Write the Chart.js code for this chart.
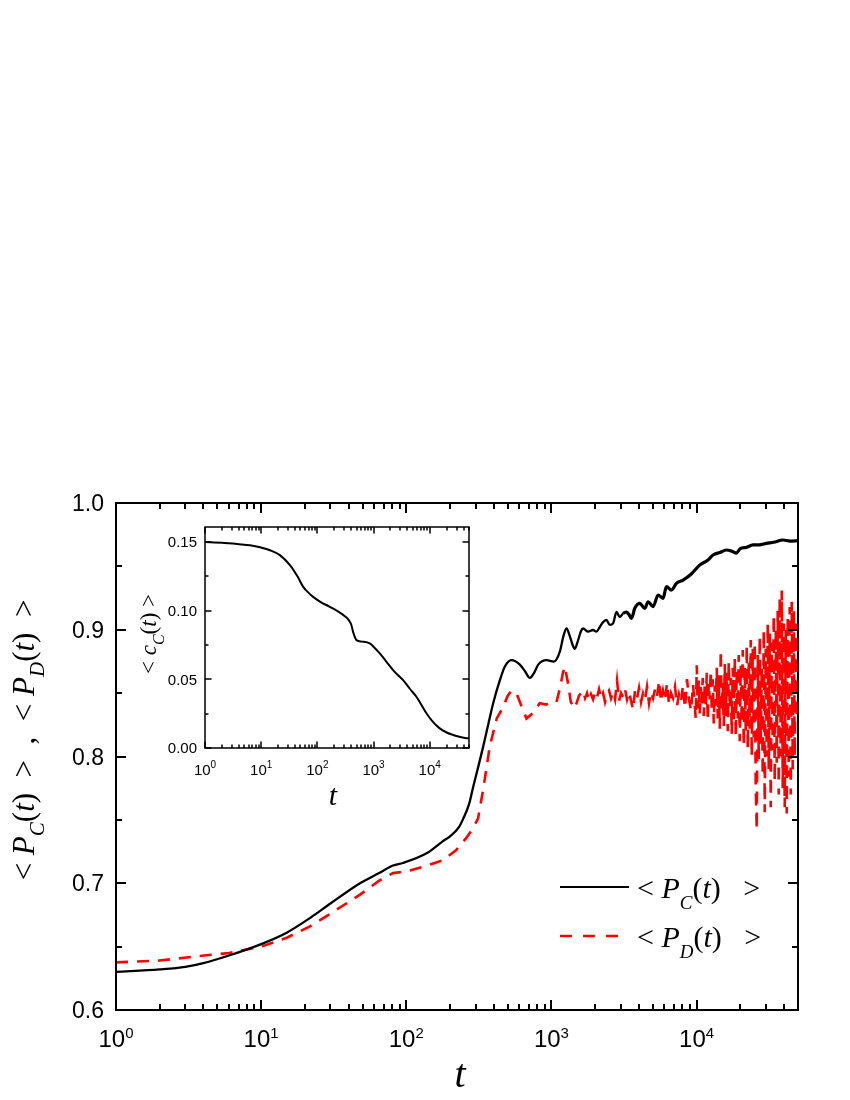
<!DOCTYPE html>
<html><head><meta charset="utf-8">
<script src="https://cdn.jsdelivr.net/npm/chart.js@4.4.1/dist/chart.umd.min.js"></script>
<style>
html,body{margin:0;padding:0;background:#fff;}
#wrap{position:relative;width:850px;height:1100px;}
canvas{position:absolute;left:0;top:0;}
</style></head><body>
<div id="wrap"><canvas id="main" width="850" height="1100"></canvas><canvas id="inset" width="850" height="1100"></canvas></div>
<script>
// ---------- data ----------
const tC = [1, 2, 3, 4, 6, 10, 15, 22, 30, 48, 65, 81, 95, 138, 178, 200, 230, 247, 270, 289, 315, 339, 370, 397, 441, 478, 531, 606, 660, 710, 760, 811, 925, 1038, 1143, 1210, 1270, 1330, 1400, 1449, 1520, 1600, 1652, 1790, 1937, 2042, 2150, 2270, 2394, 2524, 2661, 2806, 2958, 3119, 3289, 3420, 3561, 3752, 4062, 4398, 4637, 5016, 5431, 5880, 6199, 6711, 7266, 8078, 9200, 10510, 12000, 12990, 14500, 16060, 17500, 18830, 20000, 22000, 24500, 27000, 30300, 34000, 39450, 44000, 50000];
const pC = [0.630, 0.632, 0.634, 0.637, 0.643, 0.652, 0.661, 0.673, 0.684, 0.700, 0.708, 0.714, 0.716, 0.7236, 0.733, 0.737, 0.744, 0.751, 0.762, 0.776, 0.793, 0.808, 0.827, 0.842, 0.860, 0.871, 0.876, 0.8725, 0.867, 0.862, 0.866, 0.8725, 0.876, 0.8748, 0.8827, 0.895, 0.901, 0.896, 0.888, 0.885, 0.891, 0.899, 0.901, 0.8985, 0.8998, 0.8985, 0.902, 0.906, 0.9077, 0.9038, 0.905, 0.914, 0.910, 0.9129, 0.914, 0.912, 0.909, 0.9169, 0.9208, 0.9169, 0.9221, 0.9182, 0.9274, 0.9248, 0.934, 0.9313, 0.9366, 0.9392, 0.944, 0.951, 0.955, 0.959, 0.961, 0.9629, 0.962, 0.9605, 0.964, 0.965, 0.9669, 0.967, 0.9682, 0.969, 0.9708, 0.970, 0.9703];

const tD_smooth = [1, 2, 3.4, 6, 10, 15, 21.7, 30, 48, 65, 81, 106, 130, 178, 220, 260, 290, 312, 340, 376, 420, 465, 500, 531, 574, 620, 673, 740, 831, 920, 1000, 1084, 1150, 1200, 1237, 1300, 1360, 1449, 1550];
const pD_smooth = [0.6376, 0.639, 0.642, 0.645, 0.650, 0.657, 0.666, 0.676, 0.691, 0.702, 0.708, 0.710, 0.713, 0.718, 0.726, 0.736, 0.744, 0.751, 0.775, 0.808, 0.830, 0.839, 0.848, 0.852, 0.850, 0.840, 0.830, 0.834, 0.842, 0.841, 0.843, 0.843, 0.855, 0.866, 0.871, 0.858, 0.843, 0.838, 0.848];
const tD_noisy = [1652,1705,1760,1817,1875,1936,1998,2062,2129,2197,
  2268,2341,2417,2495,2575,2658,2744,2832,2923,3017,
  3115,3215,3318,3425,3536,3650,3767,3889,4014,4143,
  4277,4415,4557,4704,4855,5012,5173,5340,5512,5690,
  5873,6062,6258,6459,6668,6882,7104,7333,7569,7813,
  8065,8325,8593,8870,9156,9451];
const pD_noisy = [0.852, 0.846, 0.850, 0.844, 0.849, 0.845, 0.851, 0.847, 0.853, 0.846,
  0.850, 0.843, 0.849, 0.852, 0.846, 0.851, 0.845, 0.860, 0.844, 0.850,
  0.847, 0.853, 0.845, 0.851, 0.844, 0.837, 0.852, 0.846, 0.854, 0.843,
  0.850, 0.845, 0.855, 0.842, 0.851, 0.846, 0.853, 0.847, 0.860, 0.843,
  0.852, 0.844, 0.858, 0.841, 0.850, 0.846, 0.855, 0.840, 0.849, 0.843,
  0.856, 0.838, 0.861, 0.845, 0.836, 0.857];
const tD_dense = [9874, 10032, 10192, 10355, 10521, 10689, 10860, 11034, 11210, 11389,
  11571, 11756, 11944, 12135, 12329, 12526, 12726, 12930, 13136, 13346,
  13560, 13776, 13997, 14220, 14448, 14679, 14913, 15152, 15394, 15640,
  15890, 16144, 16402, 16664, 16931, 17201, 17476, 17756, 18039, 18328,
  18621, 18918, 19221, 19528, 19840, 20157, 20479, 20807, 21139, 21477,
  21821, 22169, 22524, 22884, 23250, 23621, 23999, 24383, 24772, 25168,
  25571, 25980, 26395, 26817, 27245, 27681, 28124, 28573, 29030, 29494,
  29965, 30444, 30931, 31425, 31928, 32438, 32956, 33483, 34018, 34562,
  35115, 35676, 36246, 36826, 37414, 38012, 38620, 39237, 39864, 40502,
  41149, 41807, 42475, 43154, 43844, 44545, 45257, 45980, 46715, 47462,
  48221, 48992];
const pD_dense = [0.830, 0.872, 0.838, 0.860, 0.834, 0.855, 0.842, 0.862, 0.832, 0.857,
  0.838, 0.866, 0.828, 0.858, 0.845, 0.868, 0.835, 0.861, 0.826, 0.856,
  0.840, 0.870, 0.830, 0.864, 0.822, 0.884, 0.836, 0.858, 0.824, 0.873,
  0.832, 0.866, 0.820, 0.875, 0.838, 0.862, 0.818, 0.870, 0.826, 0.878,
  0.815, 0.868, 0.830, 0.880, 0.812, 0.872, 0.826, 0.884, 0.808, 0.870,
  0.820, 0.888, 0.806, 0.876, 0.822, 0.892, 0.800, 0.885, 0.815, 0.890,
  0.775, 0.742, 0.880, 0.798, 0.895, 0.810, 0.870, 0.785, 0.900, 0.756,
  0.885, 0.800, 0.905, 0.790, 0.897, 0.760, 0.890, 0.805, 0.912, 0.780,
  0.900, 0.795, 0.915, 0.770, 0.925, 0.800, 0.931, 0.775, 0.905, 0.760,
  0.900, 0.755, 0.910, 0.784, 0.918, 0.770, 0.922, 0.790, 0.915, 0.800,
  0.905, 0.830];
const tD = tD_smooth.concat(tD_noisy, tD_dense);
const pD = pD_smooth.concat(pD_noisy, pD_dense);

// inset: <c_C(t)>
const tI = [1, 2, 4, 6.3, 10, 14.3, 21.5, 32.5, 45, 56, 70, 84, 113, 167, 240, 320, 362, 400, 433, 497, 620, 857, 1000, 1291, 1700, 2228, 2700, 3357, 4500, 5796, 7000, 8730, 11000, 15066, 20000, 26000, 35000, 44900, 50000];
const cI = [0.150, 0.1495, 0.1485, 0.1477, 0.1460, 0.1441, 0.1405, 0.1332, 0.1245, 0.1174, 0.1130, 0.1101, 0.1065, 0.1028, 0.0992, 0.0955, 0.0932, 0.0900, 0.0845, 0.0786, 0.0775, 0.0762, 0.0738, 0.0689, 0.0628, 0.0568, 0.0532, 0.0495, 0.0428, 0.0373, 0.0318, 0.0253, 0.0198, 0.0143, 0.0113, 0.0095, 0.0080, 0.0071, 0.0070];

const mainYTicks = [0.6, 0.7, 0.8, 0.9, 1.0];
const mainYLabels = ['0.6', '0.7', '0.8', '0.9', '1.0'];
const insetYTicks = [0.00, 0.05, 0.10, 0.15];
const insetYLabels = ['0.00', '0.05', '0.10', '0.15'];
const decades = [1, 10, 100, 1000, 10000];
const decadeExp = ['0', '1', '2', '3', '4'];

// ---------- helpers ----------
const SANS = '"Liberation Sans", Arial, sans-serif';
const SERIF = '"Liberation Serif", "Times New Roman", serif';

function pts(xs, ys) { return xs.map((x, i) => ({x: x, y: ys[i]})); }

function logTickValues(min, max) {
  const out = [];
  for (let d = Math.floor(Math.log10(min)); d <= Math.ceil(Math.log10(max)); d++) {
    for (let m = 1; m <= 9; m++) {
      const v = m * Math.pow(10, d);
      if (v >= min * 0.999 && v <= max * 1.001) out.push({v: v, major: m === 1});
    }
  }
  return out;
}

function rich(ctx, segs, x, y, align) {
  let w = 0;
  segs.forEach(s => { ctx.font = s.f; s.w = ctx.measureText(s.t).width; w += s.w; });
  let cx = align === 'center' ? x - w / 2 : (align === 'right' ? x - w : x);
  ctx.textAlign = 'left';
  ctx.textBaseline = 'alphabetic';
  segs.forEach(s => { ctx.font = s.f; ctx.fillText(s.t, cx, y + (s.dy || 0)); cx += s.w; });
}

function framePlugin(cfg) {
  return {
    id: 'frame_' + cfg.name,
    afterDatasetsDraw(chart) {
      const ctx = chart.ctx, a = chart.chartArea;
      const xs = chart.scales.x, ys = chart.scales.y;
      ctx.save();
      ctx.strokeStyle = '#000';
      ctx.fillStyle = '#000';
      ctx.lineWidth = cfg.lw;
      ctx.strokeRect(a.left, a.top, a.right - a.left, a.bottom - a.top);
      ctx.beginPath();
      logTickValues(xs.min, xs.max).forEach(t => {
        const px = Math.round(xs.getPixelForValue(t.v));
        const L = t.major ? cfg.major : cfg.minor;
        ctx.moveTo(px, a.bottom); ctx.lineTo(px, a.bottom - L);
        ctx.moveTo(px, a.top); ctx.lineTo(px, a.top + L);
      });
      const n = Math.round((ys.max - ys.min) / cfg.yMinorStep);
      for (let i = 0; i <= n; i++) {
        const v = ys.min + i * cfg.yMinorStep;
        const py = Math.round(ys.getPixelForValue(v));
        const L = (i % cfg.yMajorEvery === 0) ? cfg.major : cfg.minor;
        ctx.moveTo(a.left, py); ctx.lineTo(a.left + L, py);
        ctx.moveTo(a.right, py); ctx.lineTo(a.right - L, py);
      }
      ctx.stroke();
      ctx.font = cfg.yFont;
      ctx.textAlign = 'right';
      ctx.textBaseline = 'alphabetic';
      cfg.yTicks.forEach((v, i) => {
        const py = ys.getPixelForValue(v);
        ctx.fillText(cfg.yLabels[i], cfg.yLabelX, py + cfg.yLabelDy);
      });
      decades.forEach((v, i) => {
        if (v < xs.min || v > xs.max) return;
        const px = xs.getPixelForValue(v);
        rich(ctx, [{t: '10', f: cfg.xFont}, {t: decadeExp[i], f: cfg.supFont, dy: -cfg.supDy}], px, cfg.xLabelY, 'center');
      });
      if (cfg.extra) cfg.extra(ctx, chart);
      ctx.restore();
    }
  };
}

function baseOptions(xmin, xmax, ymin, ymax, pad) {
  return {
    responsive: false, animation: false, devicePixelRatio: 1, events: [],
    layout: {padding: pad},
    plugins: {legend: {display: false}, tooltip: {enabled: false}},
    elements: {point: {radius: 0}},
    scales: {
      x: {type: 'logarithmic', min: xmin, max: xmax, display: false},
      y: {type: 'linear', min: ymin, max: ymax, display: false}
    }
  };
}

// ---------- main chart ----------
const it = 'italic 31px ' + SERIF, up = '31px ' + SERIF, sub = 'italic 21px ' + SERIF;
const mainExtra = (ctx, chart) => {
  ctx.font = 'italic 40px ' + SERIF;
  ctx.textAlign = 'center';
  ctx.fillText('t', 460, 1087);
  ctx.save();
  ctx.translate(34, 740);
  ctx.rotate(-Math.PI / 2);
  rich(ctx, [
    {t: '< ', f: up}, {t: 'P', f: it}, {t: 'C', f: sub, dy: 10}, {t: '(', f: up}, {t: 't', f: it}, {t: ')', f: up},
    {t: '  >  ,  ', f: up},
    {t: '< ', f: up}, {t: 'P', f: it}, {t: 'D', f: sub, dy: 10}, {t: '(', f: up}, {t: 't', f: it}, {t: ')', f: up},
    {t: '  >', f: up}
  ], 0, 0, 'center');
  ctx.restore();
  const lu = '30px ' + SERIF, li = 'italic 30px ' + SERIF, lsub = 'italic 19px ' + SERIF;
  ctx.lineWidth = 2.2;
  ctx.strokeStyle = '#000';
  ctx.beginPath(); ctx.moveTo(560, 887); ctx.lineTo(629, 887); ctx.stroke();
  ctx.strokeStyle = '#ff0000';
  ctx.lineWidth = 2.6;
  ctx.setLineDash([12, 11]);
  ctx.beginPath(); ctx.moveTo(560, 936); ctx.lineTo(622, 936); ctx.stroke();
  ctx.setLineDash([]);
  ctx.fillStyle = '#000';
  rich(ctx, [{t: '< ', f: lu}, {t: 'P', f: li}, {t: 'C', f: lsub, dy: 11}, {t: '(', f: lu}, {t: 't', f: li}, {t: ')', f: lu}, {t: '   >', f: lu}], 637, 898, 'left');
  rich(ctx, [{t: '< ', f: lu}, {t: 'P', f: li}, {t: 'D', f: lsub, dy: 11}, {t: '(', f: lu}, {t: 't', f: li}, {t: ')', f: lu}, {t: '   >', f: lu}], 637, 947, 'left');
};

new Chart(document.getElementById('main'), {
  type: 'line',
  data: {
    datasets: [
      {label: '<PC(t)>', data: pts(tC, pC), borderColor: '#000', borderWidth: 2.3, cubicInterpolationMode: 'monotone', fill: false,
       segment: {borderWidth: c => (c.p0.parsed.x > 3000 ? 3.2 : 2.3)}},
      {label: '<PD(t)>', data: pts(tD, pD), borderColor: '#ff0000', borderWidth: 2.6, borderDash: [12, 9], tension: 0, fill: false}
    ]
  },
  options: baseOptions(1, 50000, 0.6, 1.0, {left: 116, top: 503, right: 52, bottom: 90}),
  plugins: [framePlugin({
    name: 'main', lw: 2, major: 10, minor: 6, yMinorStep: 0.05, yMajorEvery: 2,
    yTicks: mainYTicks, yLabels: mainYLabels, yFont: '23px ' + SANS, yLabelX: 104, yLabelDy: 8.2,
    xFont: '24px ' + SANS, supFont: '15px ' + SANS, supDy: 9, xLabelY: 1047,
    extra: mainExtra
  })]
});

// ---------- inset chart ----------
const insetExtra = (ctx, chart) => {
  ctx.font = 'italic 30px ' + SERIF;
  ctx.textAlign = 'center';
  ctx.fillText('t', 333, 805);
  ctx.save();
  ctx.translate(156, 634);
  ctx.rotate(-Math.PI / 2);
  const i2 = 'italic 23px ' + SERIF, u2 = '23px ' + SERIF, s2 = 'italic 16px ' + SERIF;
  rich(ctx, [{t: '< ', f: u2}, {t: 'c', f: i2}, {t: 'C', f: s2, dy: 8}, {t: '(', f: u2}, {t: 't', f: i2}, {t: ')', f: u2}, {t: ' >', f: u2}], 0, 0, 'center');
  ctx.restore();
};

new Chart(document.getElementById('inset'), {
  type: 'line',
  data: {
    datasets: [
      {label: '<cC(t)>', data: pts(tI, cI), borderColor: '#000', borderWidth: 2, cubicInterpolationMode: 'monotone', fill: false}
    ]
  },
  options: baseOptions(1, 50000, 0.0, 0.161, {left: 205, top: 527, right: 381, bottom: 352}),
  plugins: [framePlugin({
    name: 'inset', lw: 1.5, major: 6.5, minor: 3.5, yMinorStep: 0.025, yMajorEvery: 2,
    yTicks: insetYTicks, yLabels: insetYLabels, yFont: '15px ' + SANS, yLabelX: 197, yLabelDy: 5.4,
    xFont: '15px ' + SANS, supFont: '10px ' + SANS, supDy: 7, xLabelY: 775,
    extra: insetExtra
  })]
});
</script>
</body></html>
